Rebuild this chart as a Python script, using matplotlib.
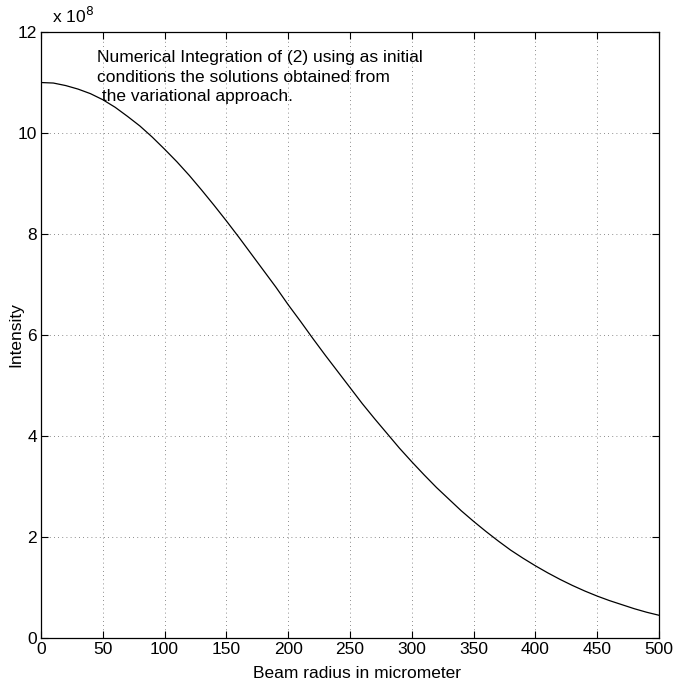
import matplotlib
matplotlib.use("Agg")
import matplotlib.pyplot as plt

plt.rcParams['font.family'] = ['Liberation Sans', 'DejaVu Sans']

# beam radius (micrometer) and intensity (x 1e8)
radius = list(range(0, 501, 10))
intensity = [11.00, 10.99, 10.94, 10.87, 10.78, 10.66, 10.51, 10.33, 10.14,
             9.92, 9.68, 9.43, 9.16, 8.87, 8.57, 8.26, 7.94, 7.61, 7.28,
             6.95, 6.60, 6.27, 5.93, 5.60, 5.28, 4.96, 4.64, 4.34, 4.05,
             3.76, 3.49, 3.23, 2.98, 2.75, 2.52, 2.31, 2.11, 1.92, 1.74,
             1.58, 1.43, 1.29, 1.16, 1.04, 0.93, 0.83, 0.74, 0.66, 0.58,
             0.51, 0.45]

xticks = list(range(0, 501, 50))
yticks = list(range(0, 13, 2))
note = ("Numerical Integration of (2) using as initial\n"
        "conditions the solutions obtained from\n"
        " the variational approach.")

fig = plt.figure(figsize=(6.74, 6.83), dpi=100)
ax = fig.add_axes([0.0608, 0.0659, 0.9169, 0.8872])

ax.plot(radius, intensity, color='black', linewidth=0.9)

ax.set_xlim(0, 500)
ax.set_ylim(0, 12)
ax.set_xticks(xticks)
ax.set_yticks(yticks)
ax.tick_params(direction='in', top=True, right=True, length=5,
               labelsize=12.5, pad=3)
ax.grid(True, linestyle=(0, (1, 4)), color='black', linewidth=0.6, alpha=0.6)
for s in ax.spines.values():
    s.set_linewidth(0.9)

ax.set_xlabel("Beam radius in micrometer", fontsize=12.5)
ax.set_ylabel("Intensity", fontsize=12.5)
ax.xaxis.set_label_coords(0.511, -0.047)
ax.yaxis.set_label_coords(-0.029, 0.5)

ax.text(0.018, 1.01, "x 10$^8$", transform=ax.transAxes, fontsize=12.5,
        ha='left', va='bottom')
ax.text(45, 11.64, note, fontsize=12.5, ha='left', va='top', linespacing=1.38)

fig.savefig("out.png", dpi=100)
